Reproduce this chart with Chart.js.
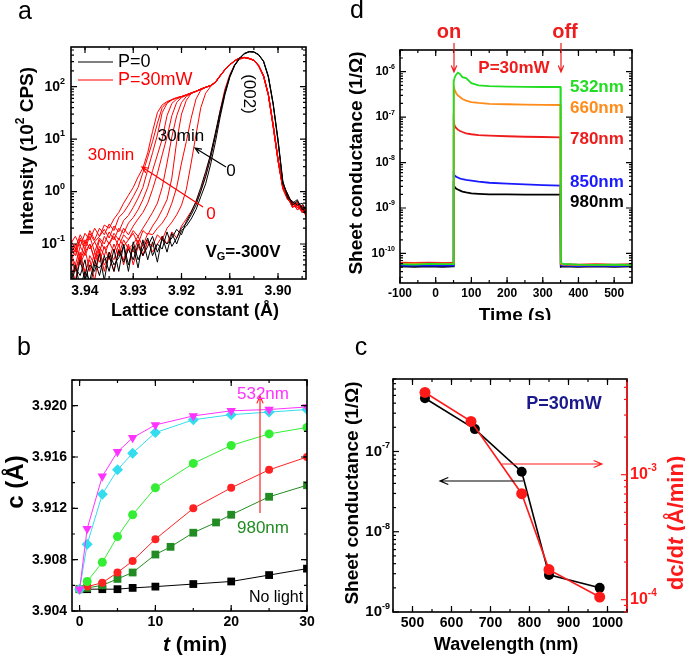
<!DOCTYPE html>
<html>
<head>
<meta charset="utf-8">
<script src="https://cdn.jsdelivr.net/npm/chart.js@4"></script>
<style>
  body { margin: 0; background: #fff; width: 685px; height: 659px; position: relative; overflow: hidden; }
  canvas { position: absolute; }
</style>
</head>
<body>
<canvas id="chartA" width="340" height="320" style="left:0;top:0"></canvas>
<canvas id="chartD" width="345" height="320" style="left:340px;top:0"></canvas>
<canvas id="chartB" width="340" height="339" style="left:0;top:320px"></canvas>
<canvas id="chartC" width="345" height="339" style="left:340px;top:320px"></canvas>
<script>
// ---- panel a: XRD scans on a shared lattice-constant grid ----
const latticeX = [3.943, 3.942, 3.941, 3.940, 3.939, 3.938, 3.937, 3.936, 3.935, 3.934,
  3.933, 3.932, 3.931, 3.930, 3.929, 3.928, 3.927, 3.926, 3.925, 3.924,
  3.923, 3.922, 3.921, 3.920, 3.919, 3.918, 3.917, 3.916, 3.915, 3.914,
  3.913, 3.912, 3.911, 3.910, 3.909, 3.908, 3.907, 3.906, 3.905, 3.904,
  3.903, 3.902, 3.901, 3.900, 3.899, 3.898, 3.897, 3.896, 3.895, 3.894];

// P=0, from 0 to 30 min
const darkScans = [
  [0.02,0.04,0.015,0.03,0.02,0.05,0.025,0.06,0.03,0.08, 0.03,0.1,0.04,0.09,0.035,0.12,0.05,0.11,0.045,0.14,
   0.07,0.16,0.1,0.18,0.22,0.3,0.45,0.8,1.4,3.2, 8.5,26,70,150,250,340,420,460,455,400,
   300,150,45,9,1.5,0.85,0.6,0.7,0.45,0.5],
  [0.03,0.018,0.05,0.02,0.04,0.03,0.065,0.02,0.07,0.04, 0.055,0.09,0.03,0.11,0.05,0.08,0.13,0.06,0.1,0.08,
   0.17,0.09,0.13,0.2,0.25,0.36,0.55,1.0,1.9,4.2, 11,30,75,155,255,345,425,465,460,405,
   310,160,48,10,1.6,0.75,0.65,0.55,0.6,0.4],
  [0.015,0.035,0.025,0.05,0.015,0.04,0.035,0.05,0.06,0.03, 0.075,0.045,0.08,0.05,0.1,0.06,0.09,0.14,0.07,0.12,
   0.1,0.13,0.19,0.15,0.27,0.4,0.65,1.2,2.4,5, 13,34,80,160,260,350,430,470,462,410,
   305,155,47,9.5,1.4,0.9,0.55,0.65,0.5,0.35],
];

// P=30mW, from 0 to 30 min
const lightScans = [
  [0.04,0.02,0.06,0.03,0.05,0.02,0.07,0.04,0.06,0.03, 0.08,0.05,0.1,0.04,0.09,0.06,0.12,0.07,0.1,0.14,
   0.1,0.17,0.13,0.22,0.3,0.42,0.62,1.05,2.1,5, 12,35,90,170,260,330,355,340,315,245,
   155,68,17,3.8,1.1,0.7,0.6,0.45,0.55,0.35],
  [0.05,0.03,0.07,0.025,0.06,0.04,0.08,0.03,0.07,0.05, 0.1,0.04,0.09,0.07,0.12,0.06,0.11,0.09,0.15,0.12,
   0.2,0.26,0.36,0.55,1.1,3.5,12,40,75,100, 122,162,212,262,312,350,360,345,318,248,
   158,72,19,4.2,1.25,0.75,0.5,0.6,0.42,0.45],
  [0.06,0.035,0.05,0.08,0.03,0.07,0.045,0.09,0.05,0.1, 0.06,0.12,0.08,0.1,0.14,0.09,0.16,0.15,0.2,0.25,
   0.35,0.6,1.2,3.5,9,25,58,86,97,104, 121,160,210,260,310,348,358,343,316,250,
   162,70,18,4,1.15,0.85,0.6,0.5,0.45,0.4],
  [0.05,0.08,0.04,0.07,0.1,0.05,0.09,0.06,0.11,0.07, 0.13,0.09,0.12,0.16,0.1,0.18,0.15,0.22,0.3,0.45,
   0.7,1.8,9,30,55,74,82,90,98,105, 120,160,210,260,310,350,360,345,320,250,
   160,70,18,4,1.2,0.8,0.55,0.65,0.4,0.5],
  [0.07,0.04,0.09,0.06,0.1,0.05,0.12,0.08,0.1,0.14, 0.09,0.15,0.12,0.18,0.14,0.2,0.28,0.4,0.6,1.2,
   3.5,11,28,50,65,74,81,89,97,104, 118,158,208,258,308,348,362,347,322,255,
   165,72,19,4.3,1.3,0.7,0.6,0.5,0.55,0.35],
  [0.06,0.1,0.05,0.12,0.08,0.11,0.07,0.14,0.1,0.16, 0.12,0.2,0.15,0.22,0.3,0.4,0.6,1.1,2.2,5,
   11,28,50,62,68,75,81,89,97,104, 121,161,211,261,311,352,361,344,318,248,
   158,68,17,3.9,1.15,0.85,0.5,0.6,0.45,0.4],
  [0.09,0.06,0.12,0.08,0.14,0.07,0.13,0.1,0.17,0.12, 0.2,0.16,0.25,0.32,0.45,0.7,1.2,2.5,5,10,
   28,48,58,64,69,75,81,89,97,104, 119,159,209,259,309,349,359,346,321,252,
   162,71,18.5,4.1,1.25,0.75,0.65,0.45,0.5,0.3],
  [0.1,0.07,0.13,0.09,0.16,0.11,0.14,0.19,0.13,0.22, 0.17,0.28,0.35,0.5,0.75,1.2,2.6,5.5,12,32,
   48,56,61,65,70,76,82,90,98,105, 122,162,212,262,312,351,362,347,319,249,
   159,69,17.5,3.9,1.2,0.8,0.5,0.55,0.4,0.45],
  [0.12,0.08,0.15,0.1,0.18,0.12,0.2,0.15,0.24,0.18, 0.32,0.4,0.55,0.8,1.2,2.3,4.5,9,20,40,
   50,56,61,65,70,76,82,90,98,105, 120,160,210,260,310,350,360,345,320,251,
   161,70,18,4,1.2,0.7,0.6,0.5,0.45,0.4],
  [0.1,0.14,0.09,0.16,0.12,0.2,0.14,0.23,0.2,0.3, 0.4,0.6,0.85,1.2,1.9,2.8,5.5,14,32,45,
   52,57,62,65,70,76,82,90,98,105, 123,163,213,263,313,352,363,348,322,253,
   163,72,19,4.2,1.3,0.9,0.55,0.6,0.4,0.5],
];
const latticeTicks = [3.94, 3.93, 3.92, 3.91, 3.90];
const intensityTicks = [0.1, 1, 10, 100];

// ---- panel d: sheet conductance vs time ----
const timeD = [-100, -60, -20, 20, 49.5, 50.5, 53, 57, 62, 67, 75, 85, 100, 120, 150, 200, 250, 300, 349.5, 350.5, 355, 400, 450, 500, 550];
const g532 = [5.8e-11,5.7e-11,5.9e-11,5.8e-11,5.8e-11,6.0e-7,7.4e-7,8.6e-7,9.5e-7,9.0e-7,7.6e-7,7.2e-7,5.6e-7,5.0e-7,4.8e-7,4.7e-7,4.65e-7,4.6e-7,4.6e-7,6.5e-11,5.9e-11,5.7e-11,5.6e-11,5.7e-11,5.6e-11];
const g660 = [5.9e-11,6.0e-11,5.9e-11,6.0e-11,5.9e-11,4.8e-7,4.0e-7,3.4e-7,3.0e-7,2.8e-7,2.5e-7,2.3e-7,2.15e-7,2.05e-7,1.95e-7,1.92e-7,1.88e-7,1.86e-7,1.85e-7,6.0e-11,5.7e-11,5.6e-11,5.7e-11,5.6e-11,5.6e-11];
const g780 = [6.3e-11,6.2e-11,6.3e-11,6.2e-11,6.3e-11,8.0e-8,6.5e-8,5.8e-8,5.3e-8,5.0e-8,4.7e-8,4.4e-8,4.2e-8,4.0e-8,3.9e-8,3.8e-8,3.7e-8,3.65e-8,3.6e-8,5.9e-11,5.8e-11,5.7e-11,5.8e-11,5.7e-11,5.8e-11];
const g850 = [5.4e-11,5.5e-11,5.4e-11,5.5e-11,5.4e-11,5.6e-9,5.2e-9,4.9e-9,4.7e-9,4.5e-9,4.3e-9,4.15e-9,4.0e-9,3.8e-9,3.6e-9,3.45e-9,3.3e-9,3.2e-9,3.1e-9,5.5e-11,5.4e-11,5.3e-11,5.4e-11,5.3e-11,5.4e-11];
const g980 = [5.2e-11,5.1e-11,5.2e-11,5.1e-11,5.2e-11,3.2e-9,2.9e-9,2.7e-9,2.55e-9,2.45e-9,2.3e-9,2.2e-9,2.1e-9,2.05e-9,2.0e-9,2.0e-9,1.98e-9,1.97e-9,1.97e-9,5.1e-11,5.2e-11,5.1e-11,5.2e-11,5.1e-11,5.2e-11];
const timeTicks = [-100, 0, 100, 200, 300, 400, 500];
const conductTicksD = [1e-10, 1e-9, 1e-8, 1e-7, 1e-6];

// ---- panel b: c-axis lattice constant vs illumination time ----
const minutes = [0, 1, 3, 5, 7, 10, 15, 20, 25, 30];
const minutes980 = [0, 1, 3, 5, 7, 10, 12, 15, 18, 20, 25, 30];
const c532 = [3.9057, 3.9104, 3.9145, 3.9164, 3.9175, 3.9185, 3.9192, 3.9196, 3.9197, 3.9199];
const c660 = [3.9057, 3.9092, 3.9131, 3.9150, 3.9163, 3.9179, 3.9189, 3.9193, 3.9195, 3.9197];
const c780 = [3.9057, 3.9063, 3.9078, 3.9098, 3.9115, 3.9136, 3.9155, 3.9169, 3.9178, 3.9183];
const c850 = [3.9057, 3.9059, 3.9062, 3.9070, 3.9079, 3.9096, 3.9120, 3.9136, 3.9150, 3.9160];
const c980 = [3.9057, 3.9058, 3.9060, 3.9065, 3.9070, 3.9084, 3.9090, 3.9101, 3.9109, 3.9115, 3.9129, 3.9138];
const cDark = [3.9057, 3.9057, 3.9057, 3.9057, 3.9058, 3.9059, 3.9061, 3.9063, 3.9068, 3.9073];
const minuteTicks = [0, 10, 20, 30];
const cTicks = [3.904, 3.908, 3.912, 3.916, 3.920];

// ---- panel c: wavelength dependence ----
const waveG = [532, 660, 780, 850, 980];
const sheetG = [4.6e-7, 1.9e-7, 5.6e-8, 2.9e-9, 2.0e-9];
const waveR = [532, 650, 780, 850, 980];
const rateR = [4.55e-3, 2.67e-3, 7.05e-4, 1.74e-4, 1.05e-4];
const waveTicks = [500, 600, 700, 800, 900, 1000];
const conductTicksC = [1e-9, 1e-8, 1e-7];
const rateTicks = [1e-4, 1e-3];

const FAMILY = "'Liberation Sans', Arial, sans-serif";
const pts = (xs, ys) => xs.map((x, i) => ({x, y: ys[i]}));
const steps = (from, to, step) => {
  const out = [];
  for (let v = from; v <= to + step / 1000; v += step) out.push(+v.toFixed(6));
  return out;
};
const logMinor = (lo, hi) => {
  const out = [];
  for (let e = lo; e <= hi; e++) for (let k = 2; k <= 9; k++) out.push(k * Math.pow(10, e));
  return out;
};

// text with optional sup/sub/italic pieces
const rich = (ctx, parts, x, y, o = {}) => {
  const size = o.size || 14, weight = o.weight || 'bold';
  const fontFor = p => `${p.it ? 'italic ' : ''}${weight} ${p.sup || p.sub ? Math.round(size * 0.62) : size}px ${FAMILY}`;
  const list = parts.map(p => typeof p === 'string' ? {s: p} : p);
  ctx.save();
  ctx.fillStyle = o.color || '#000';
  ctx.textBaseline = 'middle';
  ctx.textAlign = 'left';
  let w = 0;
  list.forEach(p => { ctx.font = fontFor(p); w += ctx.measureText(p.s).width; });
  ctx.translate(x, y);
  if (o.rot) ctx.rotate(o.rot * Math.PI / 180);
  let cx = o.align === 'left' ? 0 : o.align === 'right' ? -w : -w / 2;
  list.forEach(p => {
    ctx.font = fontFor(p);
    const dy = p.sup ? -size * 0.38 : p.sub ? size * 0.3 : 0;
    ctx.fillText(p.s, cx, dy);
    cx += ctx.measureText(p.s).width;
  });
  ctx.restore();
};

const arrow = (ctx, r) => {
  const [x1, y1] = r.from, [x2, y2] = r.to;
  const ang = Math.atan2(y2 - y1, x2 - x1), h = r.head || 8;
  ctx.save();
  ctx.strokeStyle = r.color || '#000';
  ctx.lineWidth = r.width || 1.2;
  ctx.beginPath();
  ctx.moveTo(x1, y1); ctx.lineTo(x2, y2);
  ctx.moveTo(x2 - h * Math.cos(ang - 0.4), y2 - h * Math.sin(ang - 0.4));
  ctx.lineTo(x2, y2);
  ctx.lineTo(x2 - h * Math.cos(ang + 0.4), y2 - h * Math.sin(ang + 0.4));
  ctx.stroke();
  ctx.restore();
};

// inward ticks on the frame, plus tick labels
const drawAxis = (chart, ax) => {
  const s = chart.scales[ax.id], a = chart.chartArea, ctx = chart.ctx;
  const horiz = s.isHorizontal(), left = s.position === 'left';
  ctx.save();
  ctx.strokeStyle = ax.color || '#000';
  ctx.lineWidth = 1.2;
  const mark = (v, len) => {
    const p = s.getPixelForValue(v);
    if (horiz ? (p < a.left - 0.5 || p > a.right + 0.5) : (p < a.top - 0.5 || p > a.bottom + 0.5)) return;
    ctx.beginPath();
    if (horiz) {
      ctx.moveTo(p, a.bottom); ctx.lineTo(p, a.bottom - len);
      if (ax.mirror) { ctx.moveTo(p, a.top); ctx.lineTo(p, a.top + len); }
    } else {
      const e = left ? a.left : a.right, d = left ? 1 : -1;
      ctx.moveTo(e, p); ctx.lineTo(e + d * len, p);
      if (ax.mirror) { const e2 = left ? a.right : a.left; ctx.moveTo(e2, p); ctx.lineTo(e2 - d * len, p); }
    }
    ctx.stroke();
  };
  (ax.minor || []).forEach(v => mark(v, 3));
  ax.major.forEach(v => mark(v, 6));
  const lab = ax.labels;
  ax.major.forEach(v => {
    const p = s.getPixelForValue(v);
    const parts = lab.log ? ['10', {s: String(Math.round(Math.log10(v))), sup: true}] : [lab.fmt(v)];
    if (horiz) rich(ctx, parts, p, a.bottom + lab.off, {size: lab.size, color: ax.color});
    else rich(ctx, parts, left ? a.left - lab.off : a.right + lab.off, p,
      {size: lab.size, align: left ? 'right' : 'left', color: ax.color});
  });
  ctx.restore();
};

// annotation setups per canvas, kept out of Chart.js option resolution
const decorations = new Map();
const deco = {
  id: 'deco',
  afterDatasetsDraw(chart) {
    const o = decorations.get(chart.canvas.id) || {};
    const {ctx, chartArea: a} = chart;
    ctx.save();
    ctx.lineWidth = 1.6;
    ctx.strokeStyle = '#000';
    ctx.strokeRect(a.left, a.top, a.width, a.height);
    if (o.rightColor) {
      ctx.strokeStyle = o.rightColor;
      ctx.beginPath(); ctx.moveTo(a.right, a.top); ctx.lineTo(a.right, a.bottom); ctx.stroke();
    }
    ctx.restore();
    (o.axes || []).forEach(ax => drawAxis(chart, ax));
    (o.segs || []).forEach(sg => {
      ctx.save(); ctx.strokeStyle = sg.color; ctx.lineWidth = 1.2;
      ctx.beginPath(); ctx.moveTo(sg.from[0], sg.from[1]); ctx.lineTo(sg.to[0], sg.to[1]); ctx.stroke();
      ctx.restore();
    });
    (o.arrows || []).forEach(r => arrow(ctx, r));
    (o.texts || []).forEach(t => rich(ctx, t.parts, t.x, t.y, t));
  }
};

Chart.register(deco);
Chart.defaults.font.family = FAMILY;
Chart.defaults.animation = false;
Chart.defaults.responsive = false;
Chart.defaults.plugins.legend.display = false;
Chart.defaults.plugins.tooltip.enabled = false;
Chart.defaults.elements.point.radius = 0;
Chart.defaults.elements.line.borderWidth = 1;
Chart.defaults.elements.line.tension = 0;

const axisScale = o => ({
  type: o.type || 'linear', min: o.min, max: o.max, reverse: !!o.reverse, position: o.position,
  grid: {display: false}, border: {display: false}, ticks: {display: false},
  afterFit: s => { if (s.isHorizontal()) s.height = o.size; else s.width = o.size; },
});

// ---- panel a ----
decorations.set('chartA', {
  axes: [
    {id: 'x', major: latticeTicks, minor: steps(3.895, 3.94, 0.005), mirror: true,
     labels: {fmt: v => v.toFixed(2), size: 14, off: 12}},
    {id: 'y', major: intensityTicks, minor: logMinor(-2, 2), mirror: true, labels: {log: true, size: 14, off: 6}},
  ],
  segs: [
    {from: [78, 62], to: [113, 62], color: '#000'},
    {from: [78, 80], to: [113, 80], color: '#ff0000'},
  ],
  arrows: [
    {from: [226, 167], to: [195, 148], color: '#000', head: 7},
    {from: [203, 207], to: [142, 167], color: '#ff0000', head: 7},
  ],
  texts: [
    {parts: ['a'], x: 25, y: 12, size: 25, weight: 'normal'},
    {parts: ['Intensity (10', {s: '2', sup: true}, ' CPS)'], x: 28, y: 151, size: 19, rot: -90},
    {parts: ['Lattice constant (Å)'], x: 195, y: 311, size: 18},
    {parts: ['P=0'], x: 118, y: 62, size: 18, weight: 'normal', align: 'left'},
    {parts: ['P=30mW'], x: 118, y: 80, size: 18, weight: 'normal', align: 'left', color: '#ff0000'},
    {parts: ['(002)'], x: 249, y: 94, size: 17, weight: 'normal', rot: 90},
    {parts: ['30min'], x: 181, y: 136, size: 17, weight: 'normal'},
    {parts: ['0'], x: 231, y: 171, size: 17, weight: 'normal'},
    {parts: ['30min'], x: 111, y: 155, size: 17, weight: 'normal', color: '#ff0000'},
    {parts: ['0'], x: 211, y: 214, size: 17, weight: 'normal', color: '#ff0000'},
    {parts: ['V', {s: 'G', sub: true}, '=-300V'], x: 243, y: 252, size: 17},
  ],
});
new Chart(document.getElementById('chartA'), {
  type: 'line',
  data: {
    datasets: [
      ...darkScans.map(ys => ({data: pts(latticeX, ys), borderColor: '#000'})),
      ...lightScans.map(ys => ({data: pts(latticeX, ys), borderColor: '#ff0000'})),
    ],
  },
  options: {
    layout: {padding: {top: 47, right: 34, left: 0, bottom: 0}},
    scales: {
      x: axisScale({min: 3.8942, max: 3.9429, reverse: true, size: 41}),
      y: axisScale({type: 'logarithmic', min: 0.0215, max: 571, position: 'left', size: 71}),
    },
  },
});

// ---- panel d ----
const sweepSets = [
  {ys: g532, color: '#22dd22'},
  {ys: g660, color: '#ff8c1a'},
  {ys: g780, color: '#ee1c1c'},
  {ys: g850, color: '#1a1aff'},
  {ys: g980, color: '#000000'},
];
decorations.set('chartD', {
  axes: [
    {id: 'x', major: timeTicks, minor: steps(-100, 550, 50), mirror: true, labels: {fmt: v => String(v), size: 12, off: 11}},
    {id: 'y', major: conductTicksD, minor: logMinor(-11, -6), mirror: true, labels: {log: true, size: 12, off: 5}},
  ],
  arrows: [
    {from: [114, 43], to: [114, 72], color: '#ee1c1c', head: 7},
    {from: [221, 43], to: [221, 72], color: '#ee1c1c', head: 7},
  ],
  texts: [
    {parts: ['d'], x: 17, y: 11, size: 25, weight: 'normal'},
    {parts: ['Sheet conductance (1/Ω)'], x: 17, y: 163, size: 19, rot: -90},
    {parts: ['Time (s)'], x: 175, y: 316, size: 19},
    {parts: ['on'], x: 109, y: 32, size: 20, color: '#ee1c1c'},
    {parts: ['off'], x: 225, y: 32, size: 20, color: '#ee1c1c'},
    {parts: ['P=30mW'], x: 174, y: 68, size: 17, color: '#ee1c1c'},
    {parts: ['532nm'], x: 230, y: 87, size: 17, align: 'left', color: '#22dd22'},
    {parts: ['660nm'], x: 230, y: 108, size: 17, align: 'left', color: '#ff8c1a'},
    {parts: ['780nm'], x: 230, y: 139, size: 17, align: 'left', color: '#ee1c1c'},
    {parts: ['850nm'], x: 230, y: 182, size: 17, align: 'left', color: '#1a1aff'},
    {parts: ['980nm'], x: 230, y: 202, size: 17, align: 'left', color: '#000'},
  ],
});
new Chart(document.getElementById('chartD'), {
  type: 'line',
  data: {datasets: sweepSets.map(d => ({data: pts(timeD, d.ys), borderColor: d.color, borderWidth: 1.8}))},
  options: {
    layout: {padding: {top: 50, right: 53, left: 0, bottom: 0}},
    scales: {
      x: axisScale({min: -100, max: 550, size: 37}),
      y: axisScale({type: 'logarithmic', min: 2.24e-11, max: 3.0e-6, position: 'left', size: 60}),
    },
  },
});

// ---- panel b ----
const kinetics = [
  {xs: minutes, ys: c532, color: '#ff33ff', style: 'triangle', rot: 180, r: 5.5},
  {xs: minutes, ys: c660, color: '#33ddee', style: 'rectRot', rot: 0, r: 5.5},
  {xs: minutes, ys: c780, color: '#33ee33', style: 'circle', rot: 0, r: 4.5},
  {xs: minutes, ys: c850, color: '#ff2222', style: 'circle', rot: 0, r: 4},
  {xs: minutes980, ys: c980, color: '#228b22', style: 'rect', rot: 0, r: 5.5},
  {xs: minutes, ys: cDark, color: '#000000', style: 'rect', rot: 0, r: 5.5},
];
decorations.set('chartB', {
  axes: [
    {id: 'x', major: minuteTicks, minor: steps(0, 30, 5), mirror: true, labels: {fmt: v => String(v), size: 14, off: 11}},
    {id: 'y', major: cTicks, minor: steps(3.904, 3.922, 0.002), mirror: true, labels: {fmt: v => v.toFixed(3), size: 14, off: 5}},
  ],
  arrows: [{from: [260, 193], to: [260, 76], color: '#ff2222', head: 8}],
  texts: [
    {parts: ['b'], x: 24, y: 28, size: 25, weight: 'normal'},
    {parts: ['c (Å)'], x: 16, y: 162, size: 24, rot: -90},
    {parts: [{s: 't', it: true}, ' (min)'], x: 195, y: 325, size: 21},
    {parts: ['532nm'], x: 263, y: 74, size: 17, weight: 'normal', color: '#ff33ff'},
    {parts: ['980nm'], x: 263, y: 208, size: 17, weight: 'normal', color: '#228b22'},
    {parts: ['No light'], x: 276, y: 278, size: 16, weight: 'normal'},
  ],
});
new Chart(document.getElementById('chartB'), {
  type: 'line',
  data: {
    datasets: kinetics.map(d => ({
      data: pts(d.xs, d.ys), borderColor: d.color, backgroundColor: d.color,
      pointStyle: d.style, pointRotation: d.rot, pointRadius: d.r, pointBorderWidth: 0,
    })),
  },
  options: {
    layout: {padding: {top: 60, right: 33, left: 0, bottom: 0}},
    scales: {
      x: axisScale({min: -1, max: 30, size: 48}),
      y: axisScale({min: 3.904, max: 3.922, position: 'left', size: 72}),
    },
  },
});

// ---- panel c ----
decorations.set('chartC', {
  rightColor: '#ff1a1a',
  axes: [
    {id: 'x', major: waveTicks, minor: steps(450, 1050, 50), mirror: true, labels: {fmt: v => String(v), size: 14, off: 11}},
    {id: 'y', major: conductTicksC, minor: logMinor(-9, -7), labels: {log: true, size: 15, off: 3}},
    {id: 'y2', major: rateTicks, minor: logMinor(-5, -3), color: '#ff1a1a', labels: {log: true, size: 16, off: 3}},
  ],
  arrows: [
    {from: [162, 144], to: [262, 144], color: '#ff1a1a', head: 9},
    {from: [183, 161], to: [100, 161], color: '#000', head: 9},
  ],
  texts: [
    {parts: ['c'], x: 21, y: 28, size: 25, weight: 'normal'},
    {parts: ['Sheet conductance (1/Ω)'], x: 13, y: 173, size: 19, rot: -90},
    {parts: ['dc/d', {s: 't', it: true}, ' (Å/min)'], x: 337, y: 203, size: 22, rot: -90, color: '#ff1a1a'},
    {parts: ['Wavelength (nm)'], x: 166, y: 325, size: 18},
    {parts: ['P=30mW'], x: 224, y: 84, size: 18, color: '#1a1a8c'},
  ],
});
new Chart(document.getElementById('chartC'), {
  type: 'line',
  data: {
    datasets: [
      {data: pts(waveR, rateR), yAxisID: 'y2', borderColor: '#ff1a1a', backgroundColor: '#ff1a1a', borderWidth: 1.6, pointRadius: 5.5, pointBorderWidth: 0},
      {data: pts(waveG, sheetG), yAxisID: 'y', borderColor: '#000', backgroundColor: '#000', borderWidth: 1.6, pointRadius: 5, pointBorderWidth: 0},
    ],
  },
  options: {
    layout: {padding: {top: 59, right: 0, left: 0, bottom: 0}},
    scales: {
      x: axisScale({min: 450, max: 1050, size: 47}),
      y: axisScale({type: 'logarithmic', min: 1e-9, max: 8e-7, position: 'left', size: 53}),
      y2: axisScale({type: 'logarithmic', min: 7.97e-5, max: 5.83e-3, position: 'right', size: 58}),
    },
  },
});
</script>
</body>
</html>
